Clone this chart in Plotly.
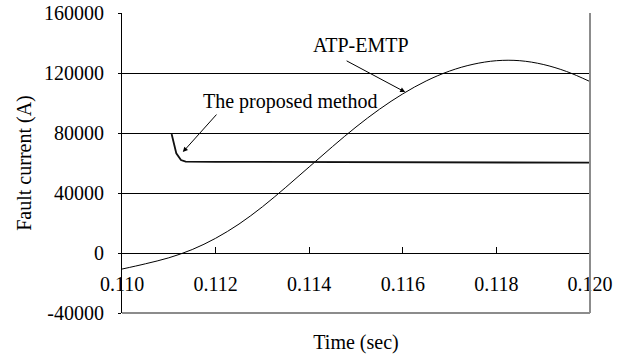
import plotly.graph_objects as go

# ATP-EMTP simulated fault current
atp_t = [0.1100, 0.1105, 0.1110, 0.1115, 0.1120, 0.1125, 0.1130, 0.1135, 0.1140,
         0.1145, 0.1150, 0.1155, 0.1160, 0.1165, 0.1170, 0.1175, 0.1180, 0.1185,
         0.1190, 0.1195, 0.1200]
atp_i = [-10700, -7200, -3200, 2300, 9800, 19300, 30800, 43800, 57400,
         71000, 84000, 95800, 106100, 114700, 121300, 125800, 128200, 128200,
         125700, 121000, 114300]

# Proposed method estimate
prop_t = [0.11106, 0.11116, 0.11126, 0.11136, 0.1120, 0.1140, 0.1160, 0.1180, 0.1200]
prop_i = [79300, 66500, 62000, 60900, 60800, 60600, 60400, 60300, 60200]

x_ticks = [0.110, 0.112, 0.114, 0.116, 0.118, 0.120]
x_tick_text = ["0.110", "0.112", "0.114", "0.116", "0.118", "0.120"]
y_ticks = [-40000, 0, 40000, 80000, 120000, 160000]
y_tick_text = ["-40000", "0", "40000", "80000", "120000", "160000"]

FONT = "Liberation Serif"
y_min, y_max = -40000, 160000
serif20 = dict(family=FONT, size=20, color="black")

fig = go.Figure()
fig.add_trace(go.Scatter(x=atp_t, y=atp_i, mode="lines", line=dict(color="black", width=1, shape="spline"),
                         name="ATP-EMTP", showlegend=False))
fig.add_trace(go.Scatter(x=prop_t, y=prop_i, mode="lines", line=dict(color="#111111", width=1.8),
                         name="The proposed method", showlegend=False))

fig.update_layout(
    width=621, height=362,
    margin=dict(l=122, r=31, t=13, b=49),
    paper_bgcolor="white", plot_bgcolor="white",
    font=serif20,
    xaxis=dict(range=[0.110, 0.120], tickvals=x_ticks, ticktext=x_tick_text,
               anchor="free", position=(0 - y_min) / (y_max - y_min),
               showline=True, linecolor="black", linewidth=1,
               ticks="inside", ticklen=6, tickcolor="black",
               ticklabelstandoff=13, tickfont=serif20, automargin=False,
               showgrid=False, zeroline=False,
               title=dict(text="Time (sec)", standoff=40, font=serif20)),
    yaxis=dict(range=[y_min, y_max], tickvals=y_ticks, ticktext=y_tick_text,
               showline=True, linecolor="black", linewidth=1,
               ticks="outside", ticklen=3, tickcolor="black",
               ticklabelstandoff=10, tickfont=serif20, automargin=False,
               showgrid=True, gridcolor="black", gridwidth=1, zeroline=False,
               title=dict(text="Fault current (A)", standoff=7, font=serif20)),
)

# plot-area frame on right and bottom (gray)
fig.add_shape(type="line", xref="paper", yref="paper", x0=1, x1=1, y0=0, y1=1,
              line=dict(color="#8c8c8c", width=2), layer="above")
fig.add_shape(type="line", xref="paper", yref="paper", x0=0, x1=1, y0=0, y1=0,
              line=dict(color="#8c8c8c", width=2), layer="above")

# labels with arrows
fig.add_annotation(x=0.11511, y=138700, text="ATP-EMTP", showarrow=False, font=serif20)
fig.add_annotation(x=0.11605, y=107300, ax=-60, ay=-32, text="", showarrow=True,
                   arrowhead=2, arrowsize=1, arrowwidth=1, arrowcolor="black")
fig.add_annotation(x=0.11360, y=100700, text="The proposed method", showarrow=False, font=serif20)
fig.add_annotation(x=0.11130, y=67300, ax=35, ay=-39, text="", showarrow=True,
                   arrowhead=2, arrowsize=1, arrowwidth=1, arrowcolor="black")

fig.write_html("out.html")
